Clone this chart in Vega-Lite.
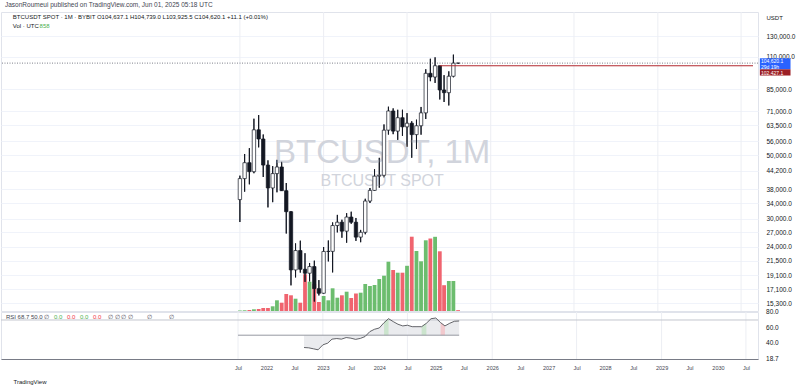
{
  "$schema": "https://vega.github.io/schema/vega-lite/v6.json",
  "padding": {"left": 0, "top": 2, "right": 0, "bottom": 0},
  "background": "#ffffff",
  "bounds": "flush",
  "config": {"font": "Liberation Sans", "view": {"stroke": "#e0e3eb", "strokeWidth": 1}},
  "title": {"text": "JasonRoumeui published on TradingView.com, Jun 01, 2025 05:18 UTC", "anchor": "start", "fontSize": 6.5, "fontWeight": "normal", "color": "#434651", "offset": 2.5, "dx": 5},
  "spacing": 1,
  "datasets": {
    "btc": [
      {"date": "2021-07-01", "open": 35045, "high": 42448, "low": 29278, "close": 41462, "volume": 500},
      {"date": "2021-08-01", "open": 41461, "high": 50500, "low": 37332, "close": 47100, "volume": 700},
      {"date": "2021-09-01", "open": 47100, "high": 52920, "low": 39600, "close": 43824, "volume": 1000},
      {"date": "2021-10-01", "open": 43820, "high": 67000, "low": 43283, "close": 61299, "volume": 1700},
      {"date": "2021-11-01", "open": 61300, "high": 69000, "low": 53256, "close": 56950, "volume": 2000},
      {"date": "2021-12-01", "open": 56950, "high": 59053, "low": 42000, "close": 46216, "volume": 3000},
      {"date": "2022-01-01", "open": 46216, "high": 47990, "low": 32917, "close": 38466, "volume": 3000},
      {"date": "2022-02-01", "open": 38466, "high": 45821, "low": 34322, "close": 43160, "volume": 4700},
      {"date": "2022-03-01", "open": 43160, "high": 48189, "low": 37155, "close": 45510, "volume": 10700},
      {"date": "2022-04-01", "open": 45510, "high": 47444, "low": 37578, "close": 37630, "volume": 8300},
      {"date": "2022-05-01", "open": 37631, "high": 40023, "low": 26700, "close": 31801, "volume": 17000},
      {"date": "2022-06-01", "open": 31801, "high": 31982, "low": 17622, "close": 19942, "volume": 15700},
      {"date": "2022-07-01", "open": 19942, "high": 24668, "low": 18781, "close": 23293, "volume": 12300},
      {"date": "2022-08-01", "open": 23296, "high": 25211, "low": 19520, "close": 20050, "volume": 8300},
      {"date": "2022-09-01", "open": 20050, "high": 22799, "low": 18125, "close": 19423, "volume": 36700},
      {"date": "2022-10-01", "open": 19423, "high": 21085, "low": 18190, "close": 20490, "volume": 29300},
      {"date": "2022-11-01", "open": 20491, "high": 21480, "low": 15476, "close": 17164, "volume": 27000},
      {"date": "2022-12-01", "open": 17165, "high": 18387, "low": 16256, "close": 16542, "volume": 9000},
      {"date": "2023-01-01", "open": 16542, "high": 23960, "low": 16499, "close": 23125, "volume": 15000},
      {"date": "2023-02-01", "open": 23125, "high": 25250, "low": 21351, "close": 23142, "volume": 10700},
      {"date": "2023-03-01", "open": 23141, "high": 29185, "low": 19549, "close": 28465, "volume": 22700},
      {"date": "2023-04-01", "open": 28465, "high": 31000, "low": 26942, "close": 29233, "volume": 13300},
      {"date": "2023-05-01", "open": 29233, "high": 29821, "low": 25811, "close": 27210, "volume": 15700},
      {"date": "2023-06-01", "open": 27210, "high": 31431, "low": 24800, "close": 30472, "volume": 19300},
      {"date": "2023-07-01", "open": 30472, "high": 31804, "low": 28861, "close": 29232, "volume": 13000},
      {"date": "2023-08-01", "open": 29232, "high": 30244, "low": 25166, "close": 25941, "volume": 17500},
      {"date": "2023-09-01", "open": 25941, "high": 27483, "low": 24901, "close": 26963, "volume": 18300},
      {"date": "2023-10-01", "open": 26963, "high": 35280, "low": 26538, "close": 34640, "volume": 27000},
      {"date": "2023-11-01", "open": 34640, "high": 38450, "low": 34097, "close": 37724, "volume": 25000},
      {"date": "2023-12-01", "open": 37724, "high": 44700, "low": 37615, "close": 42283, "volume": 26000},
      {"date": "2024-01-01", "open": 42284, "high": 48970, "low": 38555, "close": 42580, "volume": 32000},
      {"date": "2024-02-01", "open": 42580, "high": 64000, "low": 41884, "close": 61131, "volume": 35300},
      {"date": "2024-03-01", "open": 61131, "high": 73777, "low": 59005, "close": 71280, "volume": 49300},
      {"date": "2024-04-01", "open": 71280, "high": 72797, "low": 59191, "close": 60672, "volume": 41000},
      {"date": "2024-05-01", "open": 60672, "high": 71979, "low": 56552, "close": 67540, "volume": 38300},
      {"date": "2024-06-01", "open": 67541, "high": 71997, "low": 58402, "close": 62772, "volume": 38300},
      {"date": "2024-07-01", "open": 62773, "high": 70080, "low": 53485, "close": 64628, "volume": 45200},
      {"date": "2024-08-01", "open": 64628, "high": 65659, "low": 49000, "close": 58974, "volume": 74300},
      {"date": "2024-09-01", "open": 58974, "high": 66498, "low": 52550, "close": 63327, "volume": 60000},
      {"date": "2024-10-01", "open": 63327, "high": 73620, "low": 58946, "close": 70215, "volume": 49700},
      {"date": "2024-11-01", "open": 70215, "high": 99588, "low": 66835, "close": 96408, "volume": 70700},
      {"date": "2024-12-01", "open": 96408, "high": 108353, "low": 90500, "close": 93577, "volume": 72500},
      {"date": "2025-01-01", "open": 93577, "high": 109588, "low": 89256, "close": 102430, "volume": 74200},
      {"date": "2025-02-01", "open": 102430, "high": 102500, "low": 78167, "close": 84350, "volume": 59700},
      {"date": "2025-03-01", "open": 84350, "high": 95000, "low": 76607, "close": 82550, "volume": 25800},
      {"date": "2025-04-01", "open": 82550, "high": 97939, "low": 74509, "close": 94172, "volume": 30000},
      {"date": "2025-05-01", "open": 94172, "high": 111980, "low": 93377, "close": 104609, "volume": 30000},
      {"date": "2025-06-01", "open": 104637.1, "high": 104739, "low": 103925.5, "close": 104620.1, "volume": 858}
    ],
    "rsi": [
      {"date": "2022-09-01", "rsi": 33.8, "hl": null},
      {"date": "2022-10-01", "rsi": 33.4, "hl": null},
      {"date": "2022-11-01", "rsi": 32.1, "hl": null},
      {"date": "2022-12-01", "rsi": 30.8, "hl": null},
      {"date": "2023-01-01", "rsi": 37.3, "hl": null},
      {"date": "2023-02-01", "rsi": 39.5, "hl": null},
      {"date": "2023-03-01", "rsi": 44.8, "hl": null},
      {"date": "2023-04-01", "rsi": 45.6, "hl": null},
      {"date": "2023-05-01", "rsi": 44.8, "hl": null},
      {"date": "2023-06-01", "rsi": 46.9, "hl": null},
      {"date": "2023-07-01", "rsi": 46.1, "hl": null},
      {"date": "2023-08-01", "rsi": 44.5, "hl": null},
      {"date": "2023-09-01", "rsi": 45.8, "hl": null},
      {"date": "2023-10-01", "rsi": 48.2, "hl": null},
      {"date": "2023-11-01", "rsi": 54.7, "hl": null},
      {"date": "2023-12-01", "rsi": 57.8, "hl": null},
      {"date": "2024-01-01", "rsi": 59.5, "hl": null},
      {"date": "2024-02-01", "rsi": 66.5, "hl": "g1"},
      {"date": "2024-03-01", "rsi": 71.7, "hl": "g1"},
      {"date": "2024-04-01", "rsi": 67.8, "hl": null},
      {"date": "2024-05-01", "rsi": 64.4, "hl": null},
      {"date": "2024-06-01", "rsi": 62.2, "hl": null},
      {"date": "2024-07-01", "rsi": 63.1, "hl": null},
      {"date": "2024-08-01", "rsi": 61.2, "hl": null},
      {"date": "2024-09-01", "rsi": 61.2, "hl": null},
      {"date": "2024-10-01", "rsi": 61.2, "hl": "g2"},
      {"date": "2024-11-01", "rsi": 65.7, "hl": "g2"},
      {"date": "2024-12-01", "rsi": 71.7, "hl": null},
      {"date": "2025-01-01", "rsi": 72.6, "hl": null},
      {"date": "2025-02-01", "rsi": 66.5, "hl": "r1"},
      {"date": "2025-03-01", "rsi": 62.2, "hl": "r1"},
      {"date": "2025-04-01", "rsi": 65.7, "hl": null},
      {"date": "2025-05-01", "rsi": 68.3, "hl": null},
      {"date": "2025-06-01", "rsi": 68.7, "hl": null}
    ],
    "rsiticks": [{"tick": 80}, {"tick": 60}, {"tick": 40}, {"tick": 18.7}],
    "vgrid": [
      {"date": "2021-07-01"}, {"date": "2023-01-01"}, {"date": "2024-07-01"}, {"date": "2026-01-01"}, {"date": "2027-07-01"}, {"date": "2029-01-01"}, {"date": "2030-07-01"}
    ]
  },
  "vconcat": [
    {
      "width": 757,
      "height": 299,
      "resolve": {"scale": {"y": "independent"}},
      "layer": [
        {
          "layer": [
            {
              "data": {"name": "vgrid"},
              "mark": {"type": "rule", "color": "#eceef3", "strokeWidth": 1},
              "encoding": {
                "x": {"field": "date", "type": "temporal", "axis": null, "scale": {"type": "utc", "nice": false, "domain": [{"year": 2017, "month": 4, "date": 19, "utc": true}, {"year": 2030, "month": 9, "date": 17, "utc": true}]}}
              }
            },
            {
              "data": {"name": "btc"},
              "mark": {"type": "bar", "width": 3.8},
              "encoding": {
                "x": {"field": "date", "type": "temporal", "axis": null, "scale": {"type": "utc", "nice": false, "domain": [{"year": 2017, "month": 4, "date": 19, "utc": true}, {"year": 2030, "month": 9, "date": 17, "utc": true}]}},
                "y": {"field": "volume", "type": "quantitative", "axis": null, "scale": {"domain": [0, 299000], "nice": false}},
                "color": {"condition": {"test": "datum.close >= datum.open", "value": "#6cbd6e"}, "value": "#f0646f"}
              }
            }
          ]
        },
        {
          "layer": [
            {
              "data": {"name": "btc"},
              "mark": {"type": "rule", "color": "#131722", "strokeWidth": 1},
              "encoding": {
                "x": {"field": "date", "type": "temporal", "axis": null, "scale": {"type": "utc", "nice": false, "domain": [{"year": 2017, "month": 4, "date": 19, "utc": true}, {"year": 2030, "month": 9, "date": 17, "utc": true}]}},
                "y": {"field": "low", "type": "quantitative", "scale": {"type": "log", "nice": false, "domain": [14350, 157580]},
                  "axis": {"orient": "right", "values": [130000, 110000, 85000, 71000, 63500, 56000, 50000, 44200, 38000, 34000, 30000, 27000, 24000, 21500, 19100, 17100, 15300], "format": ",.1f", "title": "USDT", "titleAngle": 0, "titleAlign": "left", "titleBaseline": "top", "titleX": 8, "titleY": 2, "titleFontSize": 6, "titleFontWeight": "normal", "titleColor": "#131722", "labelFontSize": 6.5, "labelColor": "#131722", "labelPadding": 8, "ticks": false, "domain": false, "grid": true, "gridColor": "#f0f3fa", "minExtent": 43, "maxExtent": 43, "labelFlush": false, "labelOverlap": false}},
                "y2": {"field": "high"}
              }
            },
            {
              "data": {"values": [{}]},
              "mark": {"type": "text", "fontSize": 33, "color": "#d1d4dc", "align": "center", "baseline": "middle"},
              "encoding": {
                "x": {"datum": {"year": 2024, "month": 1, "date": 20, "utc": true}, "type": "temporal", "axis": null, "scale": {"type": "utc", "nice": false, "domain": [{"year": 2017, "month": 4, "date": 19, "utc": true}, {"year": 2030, "month": 9, "date": 17, "utc": true}]}},
                "y": {"datum": 50900, "type": "quantitative", "scale": {"type": "log", "nice": false, "domain": [14350, 157580]}},
                "text": {"value": "BTCUSDT, 1M"}
              }
            },
            {
              "data": {"values": [{}]},
              "mark": {"type": "text", "fontSize": 16, "color": "#d1d4dc", "align": "center", "baseline": "middle"},
              "encoding": {
                "x": {"datum": {"year": 2024, "month": 1, "date": 20, "utc": true}, "type": "temporal", "axis": null, "scale": {"type": "utc", "nice": false, "domain": [{"year": 2017, "month": 4, "date": 19, "utc": true}, {"year": 2030, "month": 9, "date": 17, "utc": true}]}},
                "y": {"datum": 40650, "type": "quantitative", "scale": {"type": "log", "nice": false, "domain": [14350, 157580]}},
                "text": {"value": "BTCUSDT SPOT"}
              }
            },
            {
              "data": {"name": "btc"},
              "mark": {"type": "rule", "color": "#131722", "strokeWidth": 1},
              "encoding": {
                "x": {"field": "date", "type": "temporal", "axis": null, "scale": {"type": "utc", "nice": false, "domain": [{"year": 2017, "month": 4, "date": 19, "utc": true}, {"year": 2030, "month": 9, "date": 17, "utc": true}]}},
                "y": {"field": "low", "type": "quantitative", "scale": {"type": "log", "nice": false, "domain": [14350, 157580]}},
                "y2": {"field": "high"}
              }
            },
            {
              "data": {"name": "btc"},
              "mark": {"type": "bar", "width": 3.4, "stroke": "#131722", "strokeWidth": 0.7},
              "encoding": {
                "x": {"field": "date", "type": "temporal", "axis": null, "scale": {"type": "utc", "nice": false, "domain": [{"year": 2017, "month": 4, "date": 19, "utc": true}, {"year": 2030, "month": 9, "date": 17, "utc": true}]}},
                "y": {"field": "open", "type": "quantitative", "scale": {"type": "log", "nice": false, "domain": [14350, 157580]}},
                "y2": {"field": "close"},
                "fill": {"condition": {"test": "datum.close >= datum.open", "value": "#ffffff"}, "value": "#131722"}
              }
            },
            {
              "data": {"values": [{}]},
              "mark": {"type": "rule", "color": "#5d606b", "strokeDash": [1, 1.5], "strokeWidth": 0.8},
              "encoding": {"y": {"datum": 104620.1, "type": "quantitative", "scale": {"type": "log", "nice": false, "domain": [14350, 157580]}}}
            },
            {
              "data": {"values": [{}]},
              "mark": {"type": "rule", "color": "#b2282f", "strokeWidth": 1},
              "encoding": {
                "x": {"datum": {"year": 2025, "month": 2, "date": 1, "utc": true}, "type": "temporal", "axis": null, "scale": {"type": "utc", "nice": false, "domain": [{"year": 2017, "month": 4, "date": 19, "utc": true}, {"year": 2030, "month": 9, "date": 17, "utc": true}]}},
                "x2": {"datum": {"year": 2030, "month": 9, "date": 17, "utc": true}},
                "y": {"datum": 102427.1, "type": "quantitative", "scale": {"type": "log", "nice": false, "domain": [14350, 157580]}}
              }
            },
            {
              "data": {"values": [{}]},
              "mark": {"type": "rect", "color": "#2962ff", "clip": false},
              "encoding": {
                "x": {"datum": {"year": 2030, "month": 11, "date": 1, "utc": true}, "type": "temporal", "axis": null, "scale": {"type": "utc", "nice": false, "domain": [{"year": 2017, "month": 4, "date": 19, "utc": true}, {"year": 2030, "month": 9, "date": 17, "utc": true}]}},
                "x2": {"datum": {"year": 2031, "month": 5, "date": 21, "utc": true}},
                "y": {"datum": 108740, "type": "quantitative", "scale": {"type": "log", "nice": false, "domain": [14350, 157580]}},
                "y2": {"datum": 99540}
              }
            },
            {
              "data": {"values": [{}]},
              "mark": {"type": "rect", "color": "#9c1f24", "clip": false},
              "encoding": {
                "x": {"datum": {"year": 2030, "month": 11, "date": 1, "utc": true}, "type": "temporal", "axis": null, "scale": {"type": "utc", "nice": false, "domain": [{"year": 2017, "month": 4, "date": 19, "utc": true}, {"year": 2030, "month": 9, "date": 17, "utc": true}]}},
                "x2": {"datum": {"year": 2031, "month": 5, "date": 21, "utc": true}},
                "y": {"datum": 99540, "type": "quantitative", "scale": {"type": "log", "nice": false, "domain": [14350, 157580]}},
                "y2": {"datum": 94710}
              }
            },
            {
              "data": {"values": [{}]},
              "mark": {"type": "text", "fontSize": 5, "color": "#ffffff", "align": "left", "baseline": "middle", "clip": false},
              "encoding": {
                "x": {"datum": {"year": 2030, "month": 11, "date": 8, "utc": true}, "type": "temporal", "axis": null, "scale": {"type": "utc", "nice": false, "domain": [{"year": 2017, "month": 4, "date": 19, "utc": true}, {"year": 2030, "month": 9, "date": 17, "utc": true}]}},
                "y": {"datum": 106500, "type": "quantitative", "scale": {"type": "log", "nice": false, "domain": [14350, 157580]}},
                "text": {"value": "104,620.1"}
              }
            },
            {
              "data": {"values": [{}]},
              "mark": {"type": "text", "fontSize": 5, "color": "#ffffff", "align": "left", "baseline": "middle", "clip": false},
              "encoding": {
                "x": {"datum": {"year": 2030, "month": 11, "date": 8, "utc": true}, "type": "temporal", "axis": null, "scale": {"type": "utc", "nice": false, "domain": [{"year": 2017, "month": 4, "date": 19, "utc": true}, {"year": 2030, "month": 9, "date": 17, "utc": true}]}},
                "y": {"datum": 101200, "type": "quantitative", "scale": {"type": "log", "nice": false, "domain": [14350, 157580]}},
                "text": {"value": "29d 19h"}
              }
            },
            {
              "data": {"values": [{}]},
              "mark": {"type": "text", "fontSize": 5, "color": "#ffffff", "align": "left", "baseline": "middle", "clip": false},
              "encoding": {
                "x": {"datum": {"year": 2030, "month": 11, "date": 8, "utc": true}, "type": "temporal", "axis": null, "scale": {"type": "utc", "nice": false, "domain": [{"year": 2017, "month": 4, "date": 19, "utc": true}, {"year": 2030, "month": 9, "date": 17, "utc": true}]}},
                "y": {"datum": 97000, "type": "quantitative", "scale": {"type": "log", "nice": false, "domain": [14350, 157580]}},
                "text": {"value": "102,427.1"}
              }
            },
            {
              "data": {"values": [{}]},
              "mark": {"type": "text", "fontSize": 6, "color": "#131722", "align": "left", "baseline": "middle"},
              "encoding": {
                "x": {"datum": {"year": 2017, "month": 6, "date": 3, "utc": true}, "type": "temporal", "axis": null, "scale": {"type": "utc", "nice": false, "domain": [{"year": 2017, "month": 4, "date": 19, "utc": true}, {"year": 2030, "month": 9, "date": 17, "utc": true}]}},
                "y": {"datum": 151400, "type": "quantitative", "scale": {"type": "log", "nice": false, "domain": [14350, 157580]}},
                "text": {"value": "BTCUSDT SPOT · 1M · BYBIT  O104,637.1  H104,739.0  L103,925.5  C104,620.1  +11.1 (+0.01%)"}
              }
            },
            {
              "data": {"values": [{}]},
              "mark": {"type": "text", "fontSize": 6, "color": "#131722", "align": "left", "baseline": "middle"},
              "encoding": {
                "x": {"datum": {"year": 2017, "month": 6, "date": 3, "utc": true}, "type": "temporal", "axis": null, "scale": {"type": "utc", "nice": false, "domain": [{"year": 2017, "month": 4, "date": 19, "utc": true}, {"year": 2030, "month": 9, "date": 17, "utc": true}]}},
                "y": {"datum": 140900, "type": "quantitative", "scale": {"type": "log", "nice": false, "domain": [14350, 157580]}},
                "text": {"value": "Vol · UTC"}
              }
            },
            {
              "data": {"values": [{}]},
              "mark": {"type": "text", "fontSize": 6, "color": "#4caf50", "align": "left", "baseline": "middle"},
              "encoding": {
                "x": {"datum": {"year": 2017, "month": 11, "date": 25, "utc": true}, "type": "temporal", "axis": null, "scale": {"type": "utc", "nice": false, "domain": [{"year": 2017, "month": 4, "date": 19, "utc": true}, {"year": 2030, "month": 9, "date": 17, "utc": true}]}},
                "y": {"datum": 140900, "type": "quantitative", "scale": {"type": "log", "nice": false, "domain": [14350, 157580]}},
                "text": {"value": "858"}
              }
            }
          ]
        }
      ]
    },
    {
      "width": 757,
      "height": 47,
      "layer": [
        {
          "data": {"name": "rsi"},
          "mark": {"type": "area", "color": "#d9dbe0", "opacity": 0.55},
          "encoding": {
            "x": {"field": "date", "type": "temporal", "scale": {"type": "utc", "nice": false, "domain": [{"year": 2017, "month": 4, "date": 19, "utc": true}, {"year": 2030, "month": 9, "date": 17, "utc": true}]},
              "axis": {"values": [
                {"year": 2021, "month": 7, "date": 1, "utc": true}, {"year": 2022, "month": 1, "date": 1, "utc": true},
                {"year": 2022, "month": 7, "date": 1, "utc": true}, {"year": 2023, "month": 1, "date": 1, "utc": true},
                {"year": 2023, "month": 7, "date": 1, "utc": true}, {"year": 2024, "month": 1, "date": 1, "utc": true},
                {"year": 2024, "month": 7, "date": 1, "utc": true}, {"year": 2025, "month": 1, "date": 1, "utc": true},
                {"year": 2025, "month": 7, "date": 1, "utc": true}, {"year": 2026, "month": 1, "date": 1, "utc": true},
                {"year": 2026, "month": 7, "date": 1, "utc": true}, {"year": 2027, "month": 1, "date": 1, "utc": true},
                {"year": 2027, "month": 7, "date": 1, "utc": true}, {"year": 2028, "month": 1, "date": 1, "utc": true},
                {"year": 2028, "month": 7, "date": 1, "utc": true}, {"year": 2029, "month": 1, "date": 1, "utc": true},
                {"year": 2029, "month": 7, "date": 1, "utc": true}, {"year": 2030, "month": 1, "date": 1, "utc": true},
                {"year": 2030, "month": 7, "date": 1, "utc": true}],
                "labelExpr": "utcmonth(datum.value) == 0 ? utcFormat(datum.value, '%Y') : 'Jul'",
                "labelFontSize": 5.5, "labelColor": "#434651", "labelPadding": 6, "ticks": false, "domainColor": "#787b86", "domainWidth": 1, "grid": false, "labelFlush": false, "labelOverlap": false,
                "title": "TradingView", "titleFontSize": 6, "titleFontWeight": "normal", "titleColor": "#131722", "titleAnchor": "start", "titleAlign": "left", "titleBaseline": "middle", "titleX": 12, "titleY": 22}},
            "y": {"field": "rsi", "type": "quantitative", "scale": {"domain": [18.7, 80.5], "nice": false, "zero": false},
              "axis": {"orient": "right", "values": [80, 60, 40, 18.7], "labels": false, "title": null, "ticks": false, "domain": false, "grid": false, "minExtent": 43, "maxExtent": 43}},
            "y2": {"datum": 50}
          }
        },
        {
          "data": {"name": "rsiticks"},
          "mark": {"type": "text", "fontSize": 6.5, "color": "#131722", "align": "left", "baseline": "middle", "clip": false},
          "encoding": {
            "x": {"datum": {"year": 2030, "month": 11, "date": 8, "utc": true}, "type": "temporal", "scale": {"type": "utc", "nice": false, "domain": [{"year": 2017, "month": 4, "date": 19, "utc": true}, {"year": 2030, "month": 9, "date": 17, "utc": true}]}},
            "y": {"field": "tick", "type": "quantitative", "scale": {"domain": [18.7, 80.5], "nice": false, "zero": false}},
            "text": {"field": "tick", "type": "quantitative", "format": ".1f"}
          }
        },
        {
          "data": {"name": "vgrid"},
          "mark": {"type": "rule", "color": "#eceef3", "strokeWidth": 1},
          "encoding": {
            "x": {"field": "date", "type": "temporal", "scale": {"type": "utc", "nice": false, "domain": [{"year": 2017, "month": 4, "date": 19, "utc": true}, {"year": 2030, "month": 9, "date": 17, "utc": true}]}}
          }
        },
        {
          "data": {"values": [{}]},
          "mark": {"type": "rule", "color": "#c3c6ce", "strokeWidth": 1},
          "encoding": {"y": {"datum": 70, "type": "quantitative", "scale": {"domain": [18.7, 80.5], "nice": false, "zero": false}}}
        },
        {
          "data": {"name": "rsi"},
          "transform": [{"filter": "datum.hl != null"}],
          "mark": {"type": "area", "opacity": 0.6},
          "encoding": {
            "x": {"field": "date", "type": "temporal", "scale": {"type": "utc", "nice": false, "domain": [{"year": 2017, "month": 4, "date": 19, "utc": true}, {"year": 2030, "month": 9, "date": 17, "utc": true}]}},
            "y": {"field": "rsi", "type": "quantitative", "scale": {"domain": [18.7, 80.5], "nice": false, "zero": false}},
            "y2": {"datum": 50},
            "color": {"field": "hl", "type": "nominal", "legend": null, "scale": {"domain": ["g1", "g2", "r1"], "range": ["#b5e0b8", "#b5e0b8", "#f6b3b8"]}}
          }
        },
        {
          "data": {"values": [{}]},
          "mark": {"type": "rule", "color": "#9598a1", "strokeWidth": 1},
          "encoding": {
            "x": {"datum": {"year": 2021, "month": 7, "date": 1, "utc": true}, "type": "temporal", "scale": {"type": "utc", "nice": false, "domain": [{"year": 2017, "month": 4, "date": 19, "utc": true}, {"year": 2030, "month": 9, "date": 17, "utc": true}]}},
            "x2": {"datum": {"year": 2025, "month": 6, "date": 1, "utc": true}},
            "y": {"datum": 50, "type": "quantitative", "scale": {"domain": [18.7, 80.5], "nice": false, "zero": false}}
          }
        },
        {
          "data": {"name": "rsi"},
          "mark": {"type": "line", "color": "#3d3f45", "strokeWidth": 0.8},
          "encoding": {
            "x": {"field": "date", "type": "temporal", "scale": {"type": "utc", "nice": false, "domain": [{"year": 2017, "month": 4, "date": 19, "utc": true}, {"year": 2030, "month": 9, "date": 17, "utc": true}]}},
            "y": {"field": "rsi", "type": "quantitative", "scale": {"domain": [18.7, 80.5], "nice": false, "zero": false}}
          }
        },
        {
          "data": {"values": [{}]},
          "mark": {"type": "text", "fontSize": 6, "color": "#434651", "align": "left", "baseline": "middle"},
          "encoding": {
            "x": {"datum": {"year": 2017, "month": 5, "date": 21, "utc": true}, "type": "temporal", "scale": {"type": "utc", "nice": false, "domain": [{"year": 2017, "month": 4, "date": 19, "utc": true}, {"year": 2030, "month": 9, "date": 17, "utc": true}]}},
            "y": {"datum": 74.5, "type": "quantitative", "scale": {"domain": [18.7, 80.5], "nice": false, "zero": false}},
            "text": {"value": "RSI  68.7  50.0  ∅"}
          }
        },
        {
          "data": {"values": [{}]},
          "mark": {"type": "text", "fontSize": 6, "color": "#4caf50", "align": "left", "baseline": "middle"},
          "encoding": {
            "x": {"datum": {"year": 2018, "month": 3, "date": 28, "utc": true}, "type": "temporal", "scale": {"type": "utc", "nice": false, "domain": [{"year": 2017, "month": 4, "date": 19, "utc": true}, {"year": 2030, "month": 9, "date": 17, "utc": true}]}},
            "y": {"datum": 74.5, "type": "quantitative", "scale": {"domain": [18.7, 80.5], "nice": false, "zero": false}},
            "text": {"value": "0.0"}
          }
        },
        {
          "data": {"values": [{}]},
          "mark": {"type": "text", "fontSize": 6, "color": "#f23645", "align": "left", "baseline": "middle"},
          "encoding": {
            "x": {"datum": {"year": 2018, "month": 6, "date": 20, "utc": true}, "type": "temporal", "scale": {"type": "utc", "nice": false, "domain": [{"year": 2017, "month": 4, "date": 19, "utc": true}, {"year": 2030, "month": 9, "date": 17, "utc": true}]}},
            "y": {"datum": 74.5, "type": "quantitative", "scale": {"domain": [18.7, 80.5], "nice": false, "zero": false}},
            "text": {"value": "0.0"}
          }
        },
        {
          "data": {"values": [{}]},
          "mark": {"type": "text", "fontSize": 6, "color": "#4caf50", "align": "left", "baseline": "middle"},
          "encoding": {
            "x": {"datum": {"year": 2018, "month": 9, "date": 12, "utc": true}, "type": "temporal", "scale": {"type": "utc", "nice": false, "domain": [{"year": 2017, "month": 4, "date": 19, "utc": true}, {"year": 2030, "month": 9, "date": 17, "utc": true}]}},
            "y": {"datum": 74.5, "type": "quantitative", "scale": {"domain": [18.7, 80.5], "nice": false, "zero": false}},
            "text": {"value": "0.0"}
          }
        },
        {
          "data": {"values": [{}]},
          "mark": {"type": "text", "fontSize": 6, "color": "#f23645", "align": "left", "baseline": "middle"},
          "encoding": {
            "x": {"datum": {"year": 2018, "month": 12, "date": 5, "utc": true}, "type": "temporal", "scale": {"type": "utc", "nice": false, "domain": [{"year": 2017, "month": 4, "date": 19, "utc": true}, {"year": 2030, "month": 9, "date": 17, "utc": true}]}},
            "y": {"datum": 74.5, "type": "quantitative", "scale": {"domain": [18.7, 80.5], "nice": false, "zero": false}},
            "text": {"value": "0.0"}
          }
        },
        {
          "data": {"values": [{}]},
          "mark": {"type": "text", "fontSize": 6, "color": "#434651", "align": "left", "baseline": "middle"},
          "encoding": {
            "x": {"datum": {"year": 2019, "month": 3, "date": 12, "utc": true}, "type": "temporal", "scale": {"type": "utc", "nice": false, "domain": [{"year": 2017, "month": 4, "date": 19, "utc": true}, {"year": 2030, "month": 9, "date": 17, "utc": true}]}},
            "y": {"datum": 74.5, "type": "quantitative", "scale": {"domain": [18.7, 80.5], "nice": false, "zero": false}},
            "text": {"value": "∅   ∅   ∅   ∅"}
          }
        },
        {
          "data": {"values": [{}]},
          "mark": {"type": "text", "fontSize": 6, "color": "#434651", "align": "left", "baseline": "middle"},
          "encoding": {
            "x": {"datum": {"year": 2019, "month": 11, "date": 20, "utc": true}, "type": "temporal", "scale": {"type": "utc", "nice": false, "domain": [{"year": 2017, "month": 4, "date": 19, "utc": true}, {"year": 2030, "month": 9, "date": 17, "utc": true}]}},
            "y": {"datum": 74.5, "type": "quantitative", "scale": {"domain": [18.7, 80.5], "nice": false, "zero": false}},
            "text": {"value": "∅"}
          }
        },
        {
          "data": {"values": [{}]},
          "mark": {"type": "text", "fontSize": 6, "color": "#434651", "align": "left", "baseline": "middle"},
          "encoding": {
            "x": {"datum": {"year": 2020, "month": 4, "date": 10, "utc": true}, "type": "temporal", "scale": {"type": "utc", "nice": false, "domain": [{"year": 2017, "month": 4, "date": 19, "utc": true}, {"year": 2030, "month": 9, "date": 17, "utc": true}]}},
            "y": {"datum": 74.5, "type": "quantitative", "scale": {"domain": [18.7, 80.5], "nice": false, "zero": false}},
            "text": {"value": "∅"}
          }
        }
      ]
    }
  ]
}
